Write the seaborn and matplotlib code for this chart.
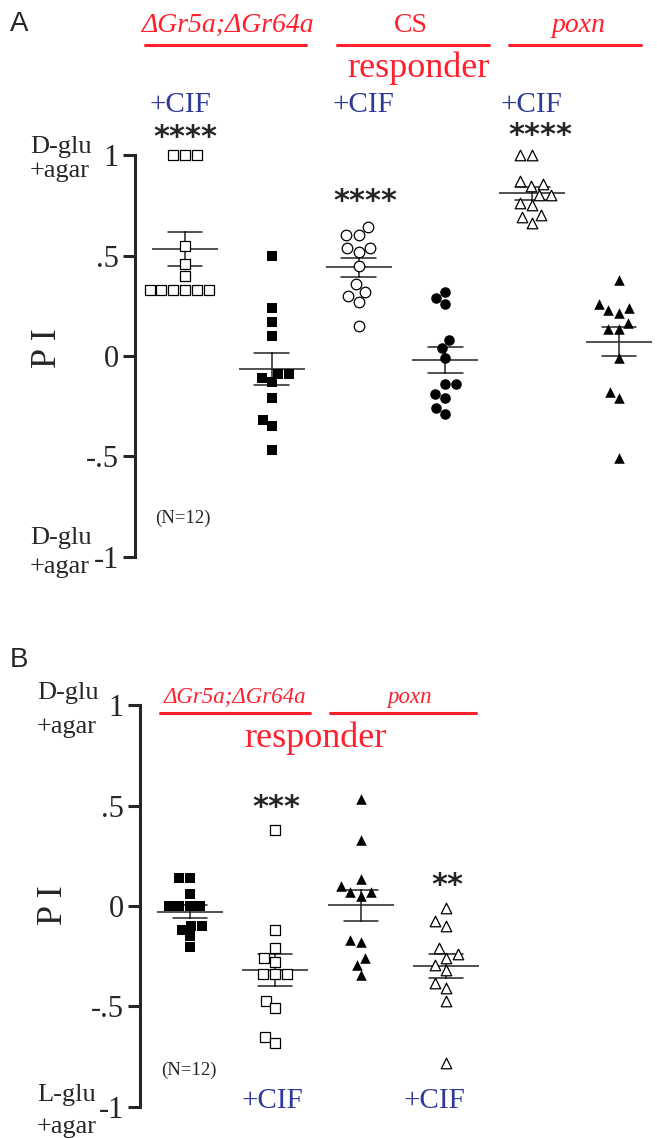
import matplotlib
matplotlib.use('Agg')
import matplotlib.pyplot as plt
from matplotlib.lines import Line2D
import pandas as pd
import seaborn as sns

# ---- data (PI values, N=12 per group) ----
# panel A: order is dGr5a;dGr64a +CIF, dGr5a;dGr64a, CS +CIF, CS, poxn +CIF, poxn
a_groups = ['gr_cif', 'gr', 'cs_cif', 'cs', 'poxn_cif', 'poxn']
a_gr_cif = [1.0, 1.0, 1.0, 0.55, 0.46, 0.40, 0.33, 0.33, 0.33, 0.33, 0.33, 0.33]
a_gr = [0.50, 0.24, 0.17, 0.10, -0.09, -0.11, -0.09, -0.13, -0.21, -0.32, -0.35, -0.47]
a_cs_cif = [0.64, 0.60, 0.60, 0.54, 0.54, 0.52, 0.45, 0.36, 0.32, 0.30, 0.27, 0.15]
a_cs = [0.32, 0.29, 0.26, 0.08, 0.04, -0.01, -0.14, -0.14, -0.19, -0.21, -0.26, -0.29]
a_poxn_cif = [1.0, 1.0, 0.87, 0.845, 0.855, 0.80, 0.80, 0.76, 0.75, 0.70, 0.66, 0.69]
a_poxn = [0.38, 0.24, 0.215, 0.23, 0.26, 0.165, 0.135, 0.135, -0.01, -0.18, -0.21, -0.51]

# panel B: dGr5a;dGr64a, dGr5a;dGr64a +CIF, poxn, poxn +CIF
b_groups = ['gr', 'gr_cif', 'poxn', 'poxn_cif']
b_gr = [0.14, 0.14, 0.06, 0.0, 0.0, 0.0, 0.0, -0.10, -0.10, -0.12, -0.15, -0.205]
b_gr_cif = [0.38, -0.12, -0.21, -0.26, -0.28, -0.34, -0.34, -0.34, -0.475, -0.51, -0.65, -0.68]
b_poxn = [0.535, 0.33, 0.136, 0.10, 0.07, 0.05, 0.07, -0.18, -0.17, -0.26, -0.295, -0.345]
b_poxn_cif = [-0.01, -0.075, -0.10, -0.21, -0.24, -0.26, -0.295, -0.32, -0.385, -0.41, -0.475, -0.78]

y_ticks = [-1, -0.5, 0, 0.5, 1]
y_ticklabels = ['-1', '-.5', '0', '.5', '1']

RED = '#ff1f2d'
BLUE = '#2e3a97'

sns.set_style('ticks')
plt.rcParams['font.family'] = ['Liberation Serif', 'DejaVu Serif']

W, H = 657, 1138
fig = plt.figure(figsize=(W / 100, H / 100), dpi=100)


def px_box(left, top, right, bottom):
    return [left / W, 1 - bottom / H, (right - left) / W, (bottom - top) / H]


def ftext(x, y, s, **kw):
    kw.setdefault('ha', 'center')
    kw.setdefault('va', 'center')
    fig.text(x / W, 1 - y / H, s, **kw)


def fline(x0, x1, y, color=RED, lw=2.2):
    fig.add_artist(Line2D([x0 / W, x1 / W], [1 - y / H, 1 - y / H],
                          color=color, lw=lw, transform=fig.transFigure))


def draw_panel(ax, groups, series, styles, xlim):
    df = pd.concat([pd.DataFrame({'group': g, 'pi': v}) for g, v in zip(groups, series)])
    for g, v, (mk, filled) in zip(groups, series, styles):
        sns.swarmplot(x=[g] * len(v), y=v, order=groups, ax=ax, marker=mk,
                      size=7.2 if mk == 's' else 7.6,
                      color='black' if filled else 'white', edgecolor='black',
                      linewidth=0 if filled else 0.9)
    sns.pointplot(data=df, x='group', y='pi', order=groups, ax=ax, errorbar='se',
                  capsize=0.4, markers='_', markersize=48, markeredgewidth=1.1,
                  linestyle='none', color='#222222', err_kws={'linewidth': 1.1})
    ax.set_xlim(*xlim)
    ax.set_ylim(-1.1, 1.1)
    ax.set_yticks(y_ticks)
    ax.set_yticklabels(y_ticklabels)
    ax.tick_params(axis='y', length=8.6, width=2.2, labelsize=22, pad=3)
    ax.set_xticks([])
    ax.set_xlabel('')
    ax.set_ylabel('')
    sns.despine(ax=ax, bottom=True)
    ax.spines['left'].set_linewidth(2.2)
    ax.spines['left'].set_bounds(-1, 1)
    ax.patch.set_alpha(0)


# ---- panel A ----
axA = fig.add_axes(px_box(135, 135, 657, 577))
draw_panel(axA, a_groups,
           [a_gr_cif, a_gr, a_cs_cif, a_cs, a_poxn_cif, a_poxn],
           [('s', False), ('s', True), ('o', False), ('o', True), ('^', False), ('^', True)],
           (-0.576, 5.438))

# ---- panel B ----
axB = fig.add_axes(px_box(140, 685, 657, 1127))
draw_panel(axB, b_groups,
           [b_gr, b_gr_cif, b_poxn, b_poxn_cif],
           [('s', True), ('s', False), ('^', True), ('^', False)],
           (-0.586, 5.475))

# ---- annotations ----
ftext(19, 24, 'A', family='Liberation Sans', fontsize=20)
ftext(19, 660, 'B', family='Liberation Sans', fontsize=20)

ftext(228, 25, 'ΔGr5a;ΔGr64a', color=RED, style='italic', fontsize=20)
ftext(411, 26, 'CS', color=RED, fontsize=20)
ftext(579, 25, 'poxn', color=RED, style='italic', fontsize=20)
fline(145, 306, 45)
fline(337, 489, 45)
fline(509, 641, 45)
ftext(418, 68, 'responder', color=RED, fontsize=26)
for x in (180, 363, 531):
    ftext(x, 105, '+CIF', color=BLUE, fontsize=21)

ftext(235, 697, 'ΔGr5a;ΔGr64a', color=RED, style='italic', fontsize=16.5)
ftext(410, 697, 'poxn', color=RED, style='italic', fontsize=16.5)
fline(160, 310, 713)
fline(330, 476, 713)
ftext(315, 738, 'responder', color=RED, fontsize=26)
for x in (272, 434):
    ftext(x, 1101, '+CIF', color=BLUE, fontsize=21)

for x, y, s in [(185, 138, '****'), (365, 202, '****'), (540, 136, '****'),
                (276, 807, '***'), (447, 885, '**')]:
    ftext(x, y, s, family='DejaVu Sans', fontsize=22, fontweight='bold')

ftext(183, 518, '(N=12)', fontsize=13.5)
ftext(189, 1070, '(N=12)', fontsize=13.5)

ftext(48, 348, 'P I', fontsize=26, rotation=90)
ftext(54, 905, 'P I', fontsize=26, rotation=90)

for x, y, s in [(30, 147, 'D-glu'), (30, 171, '+agar'),
                (30, 538, 'D-glu'), (30, 567, '+agar'),
                (37, 693, 'D-glu'), (37, 727, '+agar'),
                (37, 1095, 'L-glu'), (37, 1127, '+agar')]:
    ftext(x, y, s, ha='left', fontsize=19)

fig.savefig('out.png', dpi=100)
